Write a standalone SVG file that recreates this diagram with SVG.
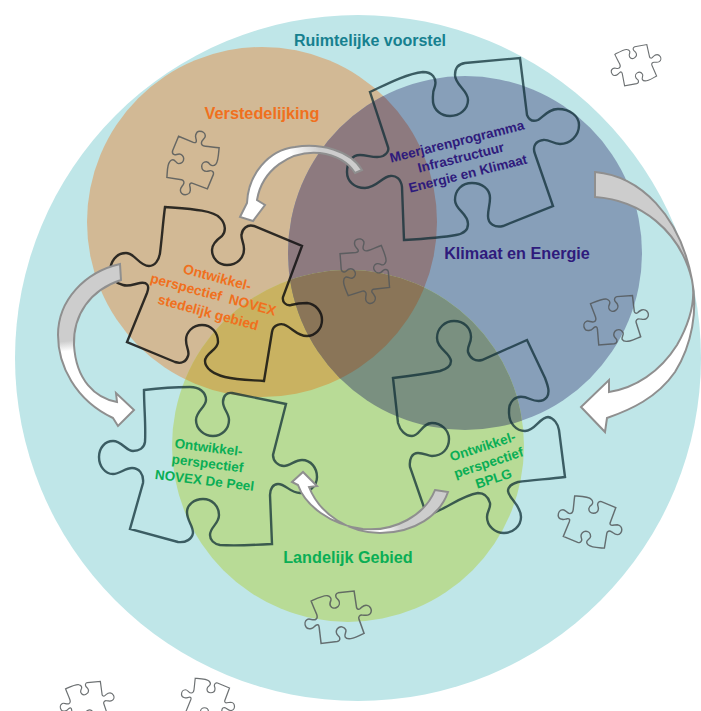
<svg xmlns="http://www.w3.org/2000/svg" xmlns:xlink="http://www.w3.org/1999/xlink" width="701" height="711" viewBox="0 0 701 711">
<style>
text{font-family:"Liberation Sans",Arial,sans-serif;font-weight:bold;text-anchor:middle}
.piece{fill:none;stroke:#0d2c34;stroke-opacity:.74;stroke-width:2.4;stroke-linejoin:miter}
.black{stroke:#111;stroke-opacity:.85}
.small{fill:none;stroke:#54585a;stroke-opacity:.85;stroke-width:4.800}
.arrow{stroke:#8f8f8f;stroke-width:2;stroke-linejoin:miter}
.or{fill:#f0701e;font-size:13.800px}
.gr{fill:#0aae55;font-size:13.500px}
.pu{fill:#2f1b7c;font-size:13.500px}
</style>
<defs>
<clipPath id="cO"><circle cx="262" cy="222" r="175"/></clipPath>
<clipPath id="cB"><circle cx="465" cy="253" r="177"/></clipPath>
<clipPath id="cG"><circle cx="348" cy="446" r="176"/></clipPath>
<path id="pz" d="M165 207C190 209 213 210 220 218C226 224 226 232 222 236C215 241 212 246 212 250C212 259 219 265 227 265C237 265 244 258 244 249C244 243 241 239 241.500 235C242 229 247 224 254 226L302 246L283 297C282 302 286 306 291 305C298 303 303 303 307 303C316 304 322 312 322 320C322 329 315 336 307 336C298 336 294 330 287 326C281 322 273 325 272 332L264 381C250 380 237 380 225 377C213 374 205 368 205 361C205 353 218 350 218 342C218 332 211 325 202 325C193 325 186 332 186 340C186 348 190 351 188 356C186 362 181 364 175 362L127 342L147 293C150 285 147 282 140 283C134 284 129 287 123 285C115 283 110 278 110 272C110 262 116 253 126 253C135 253 139 266 149 266C155 266 159 260 160 253C162 237 163 222 165 207Z"/>
<linearGradient id="gTop" gradientUnits="userSpaceOnUse" x1="250" y1="210" x2="350" y2="160"><stop offset=".55" stop-color="#fff"/><stop offset=".8" stop-color="#cdcdcd"/></linearGradient>
<linearGradient id="gRight" gradientUnits="userSpaceOnUse" x1="694" y1="270" x2="690" y2="325"><stop offset=".35" stop-color="#cdcdcd"/><stop offset=".55" stop-color="#fff"/></linearGradient>
<linearGradient id="gLeft" gradientUnits="userSpaceOnUse" x1="66" y1="325" x2="70" y2="365"><stop offset=".4" stop-color="#cdcdcd"/><stop offset=".65" stop-color="#fff"/></linearGradient>
<linearGradient id="gBottom" gradientUnits="userSpaceOnUse" x1="370" y1="530" x2="425" y2="515"><stop offset=".2" stop-color="#fff"/><stop offset=".55" stop-color="#cdcdcd"/></linearGradient>
</defs>
<rect width="701" height="711" fill="#fff"/>
<g id="ruimtelijke-voorstel">
<circle cx="358" cy="358" r="343" fill="#bfe6e8"/>
<text x="370" y="46" font-size="16" fill="#16808f">Ruimtelijke voorstel</text>
</g>
<g id="verstedelijking">
<circle cx="262" cy="222" r="175" fill="#d2b995"/>
</g>
<g id="klimaat-en-energie">
<circle cx="465" cy="253" r="177" fill="#879fb9"/>
<circle cx="262" cy="222" r="175" fill="#8d7a7f" clip-path="url(#cB)"/>
</g>
<g id="landelijk-gebied">
<circle cx="348" cy="446" r="176" fill="#b8db96"/>
<circle cx="262" cy="222" r="175" fill="#c9b261" clip-path="url(#cG)"/>
<circle cx="465" cy="253" r="177" fill="#7a9080" clip-path="url(#cG)"/>
<g clip-path="url(#cO)"><circle cx="465" cy="253" r="177" fill="#8a7558" clip-path="url(#cG)"/></g>
</g>
<text x="262" y="119" font-size="16.300" fill="#f0701e">Verstedelijking</text>
<text x="517" y="259" font-size="16.200" fill="#2f1b7c">Klimaat en Energie</text>
<text x="348" y="563" font-size="16.200" fill="#0aae55">Landelijk Gebied</text>

<g id="small-pieces">
<use xlink:href="#pz" href="#pz" class="small" transform="translate(193 163) rotate(90) scale(.3) translate(-216 -294)"/>
<use xlink:href="#pz" href="#pz" class="small" transform="translate(636 65) rotate(-33) scale(.235) translate(-216 -294)"/>
<use xlink:href="#pz" href="#pz" class="small" transform="translate(365 271) rotate(63) scale(.3) translate(-216 -294)"/>
<use xlink:href="#pz" href="#pz" class="small" transform="translate(616 320) rotate(-27) scale(.3) translate(-216 -294)"/>
<use xlink:href="#pz" href="#pz" class="small" transform="translate(590 522) scale(.3) translate(-216 -294)"/>
<use xlink:href="#pz" href="#pz" class="small" transform="translate(338 617) rotate(-29) scale(.31) translate(-216 -294)"/>
<use xlink:href="#pz" href="#pz" class="small" transform="translate(87 702) rotate(-28) scale(.25) translate(-216 -294)"/>
<use xlink:href="#pz" href="#pz" class="small" transform="translate(208 700) scale(.25) translate(-216 -294)"/>
</g>

<g id="stedelijk">
<use xlink:href="#pz" href="#pz" class="piece black"/>
<g class="or">
<text transform="translate(216 282) rotate(15)">Ontwikkel-</text>
<text transform="translate(212 299) rotate(15)" xml:space="preserve">perspectief  NOVEX</text>
<text transform="translate(207 317) rotate(15)">stedelijk gebied</text>
</g>
</g>
<g id="meerjarenprogramma">
<path class="piece" d="M370 92C385 85 405 74 423 72C432 72 437 78 435 86C432 93 433 96 433 102C434 110 441 116 450 116C460 116 468 109 468 100C468 90 455 85 455 75C455 68 458 64 465 63L520 58L527 115C529 120 533 122 538 120C544 116 549 109 558 109C570 109 579 116 579 125C579 136 570 144 560 144C553 144 549 139 543 140C536 141 532 146 535 154L553 206L503 226C495 228 488 224 488 216C488 209 490 205 490 198C490 189 482 183 472 183C462 183 455 190 455 200C455 210 468 213 468 224C468 231 462 234 456 235C440 238 422 239 404 240L402 187C401 179 396 175 390 176C382 177 376 188 365 188C354 188 347 181 347 172C347 162 352 155 360 155C368 155 376 159 383 156C388 153 389 150 388 147Z"/>
<g class="pu">
<text transform="translate(458 146) rotate(-14)">Meerjarenprogramma</text>
<text transform="translate(462 162) rotate(-14)">Infrastructuur</text>
<text transform="translate(469 178) rotate(-14)">Energie en Klimaat</text>
</g>
</g>
<g id="bplg">
<path class="piece" d="M393 378C410 376 425 374 440 371C447 369 451 366 451 361C450 352 437 349 437 338C437 328 445 321 454 321C464 321 471 328 471 337C471 344 467 346 468 352C470 358 475 362 482 360L527 340L545 378C548 386 550 392 547 397C543 402 537 402 530 399C523 396 517 396 513 400C509 404 509 408 509 413C509 423 516 431 525 431C535 431 540 417 548 417C554 418 558 424 559 430L565 477C550 479 532 480 518 482C511 484 508 487 508 491C509 499 521 505 521 517C521 526 513 533 504 533C495 533 487 526 487 517C487 511 491 508 490 503C488 496 484 493 478 493C465 495 452 504 442 509L427 516L410 467C409 459 412 453 418 453C424 453 428 456 432 456C442 456 449 449 449 439C449 430 441 423 432 423C422 423 420 436 412 436C405 436 400 430 398 423Z"/>
<g class="gr">
<text transform="translate(484 451) rotate(-18)">Ontwikkel-</text>
<text transform="translate(490 467) rotate(-18)">perspectief</text>
<text transform="translate(495 483) rotate(-18)">BPLG</text>
</g>
</g>
<g id="novex-de-peel">
<path class="piece" d="M144 390C160 388 175 387 190 387C199 387 206 392 206 400C206 407 196 411 196 420C196 429 204 436 213 436C222 436 229 429 229 420C229 413 223 409 223 402C223 396 227 392 232 393L286 404L273 455C273 461 278 466 284 466C290 466 295 460 302 460C311 460 317 468 317 477C317 486 309 493 300 493C290 493 286 484 278 484C273 484 270 489 270 495L272 544C255 545 238 546 220 545C214 544 210 540 210 535C210 527 219 524 219 515C219 506 212 499 203 499C194 499 187 505 187 512C187 521 193 525 193 533C192 539 186 543 178 542L130 529L143 483C144 474 139 468 132 468C125 468 120 474 113 474C105 474 99 466 99 457C99 448 105 441 113 441C122 441 126 451 133 451C139 451 144 448 145 442C146 425 144 408 144 390Z"/>
<g class="gr">
<text transform="translate(208 452) rotate(7)">Ontwikkel-</text>
<text transform="translate(207 468) rotate(7)">perspectief</text>
<text transform="translate(204 485) rotate(7)">NOVEX De Peel</text>
</g>
</g>

<g id="connectors">
<path class="arrow" fill="url(#gTop)" d="M362 170L355 173C348 162 335 155 320 153C290 150 262 170 257 200L265 205L253 221L240 217L247 203C248 175 268 150 295 147C320 143 350 150 362 170Z"/>
<path class="arrow" fill="url(#gRight)" d="M595 172C640 176 680 215 692 280C698 310 692 345 675 372C657 398 630 410 607 418L605 432L581 407L609 380L609 392C635 388 660 372 677 345C690 322 696 300 692 280C680 230 640 200 595 197Z"/>
<path class="arrow" fill="url(#gLeft)" d="M120 264C85 272 58 300 58 335C58 365 75 400 113 418L118 426L134 410L116 393L117 402C95 398 76 380 74 345C73 315 90 290 121 280Z"/>
<path class="arrow" fill="url(#gBottom)" d="M435 490L448 492C440 515 415 533 380 533C350 533 320 515 309 487L317 486L303 472L292 482L298 485C305 505 330 525 363 529C395 532 425 515 435 490Z"/>
</g>
</svg>
